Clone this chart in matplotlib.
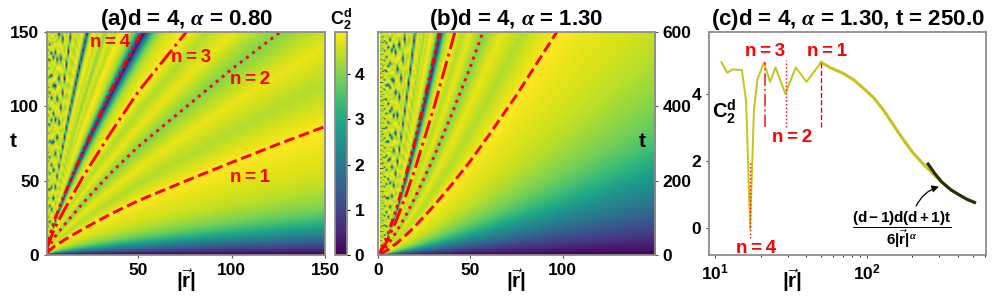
import numpy as np
import matplotlib
matplotlib.use("Agg")
import matplotlib.pyplot as plt

plt.rcParams['font.family'] = 'Liberation Sans'
plt.rcParams['font.weight'] = 'bold'
plt.rcParams['axes.labelweight'] = 'bold'
plt.rcParams['mathtext.fontset'] = 'custom'
plt.rcParams['mathtext.bf'] = 'Liberation Sans:bold'
plt.rcParams['mathtext.rm'] = 'Liberation Sans:bold'
plt.rcParams['mathtext.it'] = 'Liberation Serif:italic'
plt.rcParams['axes.edgecolor'] = '#8c8c8c'
plt.rcParams['axes.linewidth'] = 1.3

# C2 against the scaled time t/|r|^alpha, mirrored about pi and repeating every 2 pi
phase = [0.0, 0.075, 0.0997, 0.1385, 0.165, 0.205, 0.25, 0.304, 0.37, 0.452, 0.55, 0.672, 0.817, 0.995, 1.295,
         1.55, 2.07, 2.55, 3.14]
c2_phase = [0.0, 0.77, 0.98, 1.33, 1.58, 1.9, 2.23, 2.62, 3.07, 3.51, 3.88, 4.16, 4.41, 4.6, 4.78,
            4.93, 4.35, 4.78, 4.0]

# red guide curves, panel (a)
ray_r_a = [1, 5, 10, 20, 35, 50, 75, 100, 125, 150]
n1_a = [1.6, 5.9, 9.9, 17.3, 27.5, 36.6, 49.6, 62.3, 74.6, 86.4]
n2_a = [3.1, 11.9, 19.8, 34.6, 55, 73, 99, 125, 149, 173]
n3_a = [4.7, 17.8, 29.7, 52, 82, 110, 149, 187]
n4_a = [6.3, 23.7, 39.6, 69, 110, 146, 198]

# red guide curves, panel (b)
ray_r_b = [1, 5, 10, 15, 20, 30, 40, 50, 60, 75, 100]
n1_b = [1.6, 12.7, 31.3, 53, 77, 131, 190, 253, 322, 430, 625]
n2_b = [3.1, 25.5, 62.6, 106, 154, 261, 380, 506, 644]
n3_b = [4.7, 38, 94, 159, 231, 392, 570, 758]
n4_b = [6.3, 51, 126, 212, 308, 523, 760]

# panel (c) curve
r_c = [11, 12, 13, 15, 16, 17, 18, 19, 21, 23, 25, 29, 34, 40, 50, 57, 70, 82, 95, 111, 129, 150, 175, 203,
       237, 280, 320, 360, 412, 460, 514]
c2_c = [4.93, 4.62, 4.72, 4.7, 3.76, 0.0, 3.5, 4.43, 4.93, 4.35, 4.78, 4.0, 4.78, 4.35, 4.93, 4.78, 4.6, 4.41,
        4.16, 3.88, 3.51, 3.07, 2.62, 2.23, 1.9, 1.58, 1.33, 1.15, 0.98, 0.86, 0.77]
r_asym = [254, 280, 312, 360, 412, 460, 514]
c2_asym = [1.91, 1.64, 1.38, 1.14, 0.98, 0.86, 0.77]


def field(alpha, tmax, dt):
    r = np.arange(1, 151)
    t = np.arange(0, tmax + dt, dt)
    u = t[:, None] / r[None, :] ** alpha
    xp = np.array(phase)
    fp = np.array(c2_phase)
    xp = np.r_[xp, 2 * np.pi - xp[-2::-1]]
    fp = np.r_[fp, fp[-2::-1]]
    return np.interp(u, xp, fp, period=2 * np.pi)


def guides(ax, r, rays):
    styles = ['--', ':', '-.', (0, (3, 1.5, 1, 1.5, 1, 1.5))]
    for vals, ls in zip(rays, styles):
        ax.plot(r[:len(vals)], vals, color='red', lw=2.1, ls=ls)


def r_label(ax, x):
    ax.set_xlabel(r'$|\vec{\mathbf{r}}|$', fontsize=15, va='center')
    ax.xaxis.set_label_coords(x, -0.115)


tick_size = 12.5
fig = plt.figure(figsize=(9.96, 2.99), dpi=100)
W, H = 996., 299.
ax1 = fig.add_axes([47 / W, 1 - 255 / H, 278 / W, 223 / H])
cax = fig.add_axes([335 / W, 1 - 255 / H, 12 / W, 223 / H])
ax2 = fig.add_axes([378 / W, 1 - 255 / H, 277 / W, 223 / H])
ax3 = fig.add_axes([709 / W, 1 - 255 / H, 277 / W, 223 / H])

im = ax1.imshow(field(0.8, 150, 1.0), origin='lower', aspect='auto', cmap='viridis', vmin=0, vmax=4.93,
                extent=[1, 150, 0, 150], interpolation='bilinear')
guides(ax1, ray_r_a, [n1_a, n2_a, n3_a, n4_a])
ax1.set_xlim(1, 150)
ax1.set_ylim(0, 150)
ax1.set_xticks([50, 100, 150])
ax1.set_yticks([0, 50, 100, 150])
ax1.set_title(r'(a)d = 4, $\alpha$ = 0.80', fontsize=16, fontweight='bold', pad=5)
r_label(ax1, 0.5)
ax1.set_ylabel('t', fontsize=15, rotation=0, va='center')
ax1.yaxis.set_label_coords(-0.12, 0.51)
for (x, y, s) in [(35, 143, 'n\u2009=\u20094'), (78, 133, 'n\u2009=\u20093'), (110, 118, 'n\u2009=\u20092'),
                  (110, 52, 'n\u2009=\u20091')]:
    ax1.text(x, y, s, color='red', fontsize=13.5, ha='center', va='center')

cb = fig.colorbar(im, cax=cax)
cb.set_ticks([0, 1, 2, 3, 4])
cb.ax.tick_params(labelsize=tick_size, length=2)
cb.outline.set_edgecolor('#8c8c8c')
cax.set_title(r'$\mathbf{C_2^d}$', fontsize=13, pad=4)

ax2.imshow(field(1.3, 600, 2.5), origin='lower', aspect='auto', cmap='viridis', vmin=0, vmax=4.93,
           extent=[1, 150, 0, 600], interpolation='bilinear')
guides(ax2, ray_r_b, [n1_b, n2_b, n3_b, n4_b])
ax2.set_xlim(0, 150)
ax2.set_ylim(0, 600)
ax2.set_xticks([0, 50, 100])
ax2.set_yticks([0, 200, 400, 600])
ax2.yaxis.tick_right()
ax2.set_title(r'(b)d = 4, $\alpha$ = 1.30', fontsize=16, fontweight='bold', pad=5)
r_label(ax2, 0.5)
ax2.text(143, 305, 't', fontsize=15, ha='center', va='center')

olive = '#c4c41c'
ax3.semilogx(r_c[:15], c2_c[:15], color=olive, lw=1.4)
ax3.semilogx(r_c[14:], c2_c[14:], color=olive, lw=2.2)
ax3.semilogx(r_asym, c2_asym, color='#2a2a10', lw=2.2)
ax3.plot([50, 50], [3.0, 4.93], color='red', lw=1, ls='--')
ax3.plot([29.5, 29.5], [3.0, 5.0], color='red', lw=1, ls=':')
ax3.plot([21.3, 21.3], [3.0, 4.95], color='#ff4040', lw=1.4, ls='-.')
ax3.plot([17, 17], [-0.3, 2.0], color='red', lw=1, ls=':')
ax3.set_xlim(9.1, 612)
ax3.set_ylim(-0.79, 5.83)
ax3.set_yticks([0, 2, 4])
ax3.set_title(r'(c)d = 4, $\alpha$ = 1.30, t = 250.0', fontsize=16, fontweight='bold', pad=5)
r_label(ax3, 0.3)
for (x, y, s) in [(21.4, 5.25, 'n\u2009=\u20093'), (55, 5.25, 'n\u2009=\u20091'), (32.3, 2.7, 'n\u2009=\u20092'),
                  (18.6, -0.61, 'n\u2009=\u20094')]:
    ax3.text(x, y, s, color='red', fontsize=13.5, ha='center', va='center')
ax3.text(11.4, 3.47, r'$\mathbf{C_2^d}$', fontsize=14.5, ha='center', va='center')
ax3.text(170, -0.05, r'$\dfrac{\mathbf{(d-1)d(d+1)t}}{\mathbf{6|\vec{r}|}^{\alpha}}$', fontsize=11,
         ha='center', va='center')
ax3.annotate('', xy=(312, 1.26), xytext=(208, 0.59),
             arrowprops=dict(arrowstyle='-|>', color='black', lw=0.9, connectionstyle='arc3,rad=-0.25'))

for ax in [ax1, ax2, ax3]:
    ax.tick_params(labelsize=tick_size, length=2, color='#555555')
ax3.tick_params(which='minor', length=1.5)

fig.savefig('out.png', dpi=100)
